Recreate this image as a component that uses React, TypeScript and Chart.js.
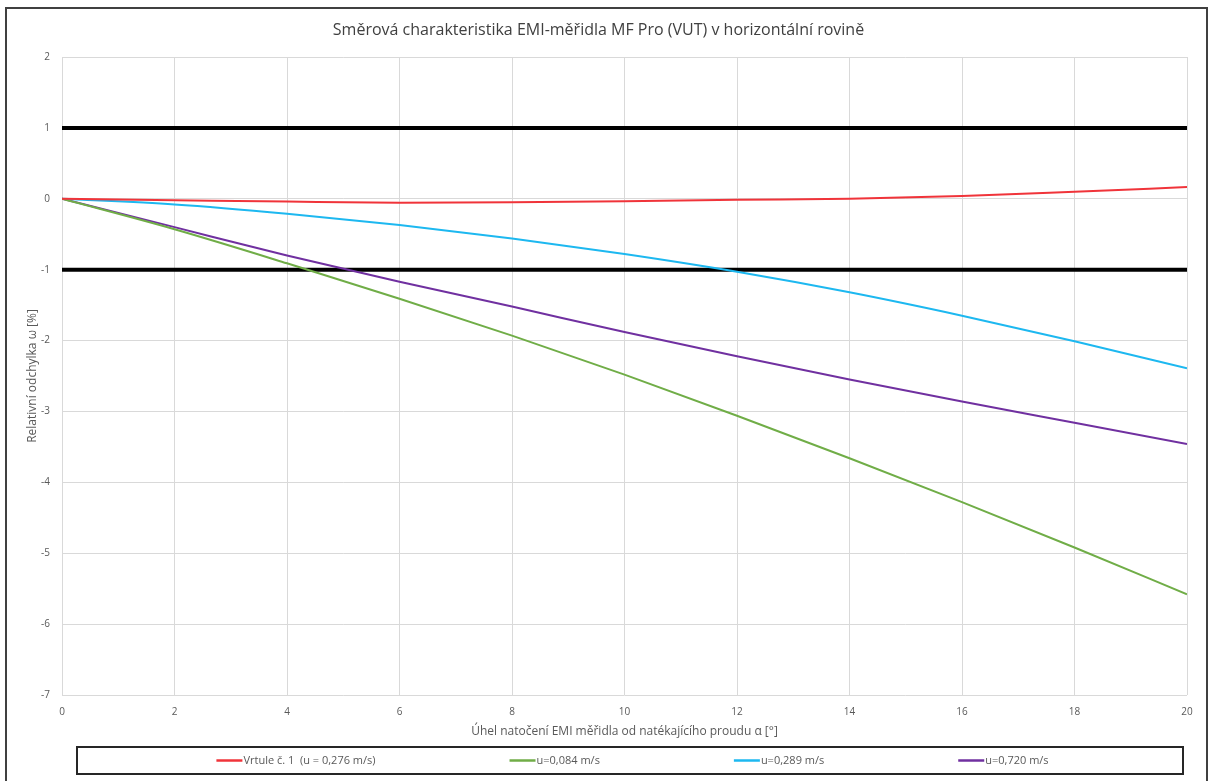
import React, { useEffect, useRef } from 'react';
import { Chart, registerables } from 'chart.js';

Chart.register(...registerables);

// ---- data ----
const angles = [0, 2, 4, 6, 8, 10, 12, 14, 16, 18, 20];
const vrtule = [0, -0.02, -0.04, -0.055, -0.05, -0.035, -0.015, 0.0, 0.04, 0.1, 0.165];
const u084 = [0, -0.43, -0.91, -1.41, -1.93, -2.48, -3.06, -3.66, -4.28, -4.92, -5.58];
const u289 = [0, -0.08, -0.21, -0.37, -0.56, -0.78, -1.03, -1.32, -1.65, -2.01, -2.39];
const u720 = [0, -0.4, -0.8, -1.17, -1.52, -1.88, -2.22, -2.55, -2.86, -3.16, -3.46];
const limitX = [0, 20];
const limitUpper = [1, 1];
const limitLower = [-1, -1];
const seriesLabels = ['Vrtule č. 1  (u = 0,276 m/s)', 'u=0,084 m/s', 'u=0,289 m/s', 'u=0,720 m/s'];
const seriesColors = ['#F0343A', '#70AD47', '#1DB8F0', '#7030A0'];
const titleText = 'Směrová charakteristika EMI-měřidla MF Pro (VUT) v horizontální rovině';
const xTitle = 'Úhel natočení EMI měřidla od natékajícího proudu α [°]';
const yTitle = 'Relativní odchylka ω [%]';

const FONT = '"Open Sans", "Noto Sans", sans-serif';

const toPoints = (xs: number[], ys: number[]) => xs.map((x, i) => ({ x, y: ys[i] }));

const framePlugin = {
  id: 'frameAndLegend',
  afterDraw(chart: any) {
    const ctx = chart.ctx as CanvasRenderingContext2D;
    ctx.save();
    // outer frame
    ctx.strokeStyle = '#404040';
    ctx.lineWidth = 2;
    ctx.strokeRect(6, 8, 1201, 800);
    // legend frame
    ctx.strokeStyle = '#262626';
    ctx.lineWidth = 2;
    ctx.strokeRect(77, 747, 1106, 27);
    // legend items
    ctx.font = '11px ' + FONT;
    const items = chart.data.datasets.filter((d: any) => !d.noLegend);
    const lineW = 26;
    const gap = 134;
    const widths = items.map((d: any) => lineW + 1 + ctx.measureText(d.label).width);
    const total = widths.reduce((a: number, b: number) => a + b, 0) + gap * (items.length - 1);
    const cx = (chart.chartArea.left + chart.chartArea.right) / 2 + 8;
    let x = cx - total / 2;
    const y = 760.5;
    items.forEach((d: any, i: number) => {
      ctx.strokeStyle = d.borderColor;
      ctx.lineWidth = 2.5;
      ctx.beginPath();
      ctx.moveTo(x, y);
      ctx.lineTo(x + lineW, y);
      ctx.stroke();
      ctx.fillStyle = '#595959';
      ctx.textBaseline = 'middle';
      ctx.textAlign = 'left';
      ctx.fillText(d.label, x + lineW + 1, y);
      x += widths[i] + gap;
    });
    ctx.restore();
  },
};

export default function App() {
  const ref = useRef<HTMLCanvasElement | null>(null);

  useEffect(() => {
    document.body.style.margin = '0';
    document.body.style.overflow = 'hidden';
    const canvas = ref.current;
    if (!canvas) return;
    const series = [vrtule, u084, u289, u720];
    const datasets: any[] = series.map((ys, i) => ({
      label: seriesLabels[i],
      data: toPoints(angles, ys),
      borderColor: seriesColors[i],
      backgroundColor: seriesColors[i],
      borderWidth: 2,
      pointRadius: 0,
      cubicInterpolationMode: 'monotone',
      fill: false,
    }));
    datasets.push(
      {
        label: '',
        noLegend: true,
        data: toPoints(limitX, limitUpper),
        borderColor: '#000000',
        borderWidth: 4,
        pointRadius: 0,
        fill: false,
      },
      {
        label: '',
        noLegend: true,
        data: toPoints(limitX, limitLower),
        borderColor: '#000000',
        borderWidth: 4,
        pointRadius: 0,
        fill: false,
      }
    );

    const chart = new Chart(canvas, {
      type: 'line',
      data: { datasets },
      options: {
        animation: false,
        responsive: false,
        maintainAspectRatio: false,
        layout: { padding: { left: 10, right: 21, top: 10, bottom: 36 } },
        plugins: {
          legend: { display: false },
          tooltip: { enabled: false },
          title: {
            display: true,
            text: titleText,
            color: '#404040',
            font: { family: FONT, size: 16, weight: 'normal', lineHeight: 1.2 },
            padding: { top: 10.4, bottom: 17.4 },
          },
        },
        scales: {
          x: {
            type: 'linear',
            min: 0,
            max: 20,
            afterFit: (s: any) => {
              s.height = 50;
            },
            ticks: {
              stepSize: 2,
              color: '#595959',
              font: { family: FONT, size: 10, lineHeight: 1.2 },
              padding: 11,
              maxRotation: 0,
            },
            grid: { color: '#D9D9D9', lineWidth: 1, drawTicks: false },
            border: { display: false },
            title: {
              display: true,
              text: xTitle,
              color: '#595959',
              font: { family: FONT, size: 12, lineHeight: 1.2 },
              padding: { top: 0, bottom: 6 },
            },
          },
          y: {
            type: 'linear',
            min: -7,
            max: 2,
            afterFit: (s: any) => {
              s.width = 52;
            },
            ticks: {
              stepSize: 1,
              color: '#595959',
              font: { family: FONT, size: 10, lineHeight: 1.2 },
              padding: 12,
            },
            grid: { color: '#D9D9D9', lineWidth: 1, drawTicks: false },
            border: { display: false },
            title: {
              display: true,
              text: yTitle,
              color: '#595959',
              font: { family: FONT, size: 12, lineHeight: 1.2 },
              padding: { top: 15, bottom: 0 },
            },
          },
        },
      } as any,
      plugins: [framePlugin],
    });
    return () => chart.destroy();
  }, []);

  return (
    <div style={{ width: 1208, height: 781, position: 'relative', background: '#ffffff' }}>
      <canvas ref={ref} width={1208} height={781} style={{ display: 'block', width: 1208, height: 781 }} />
    </div>
  );
}
